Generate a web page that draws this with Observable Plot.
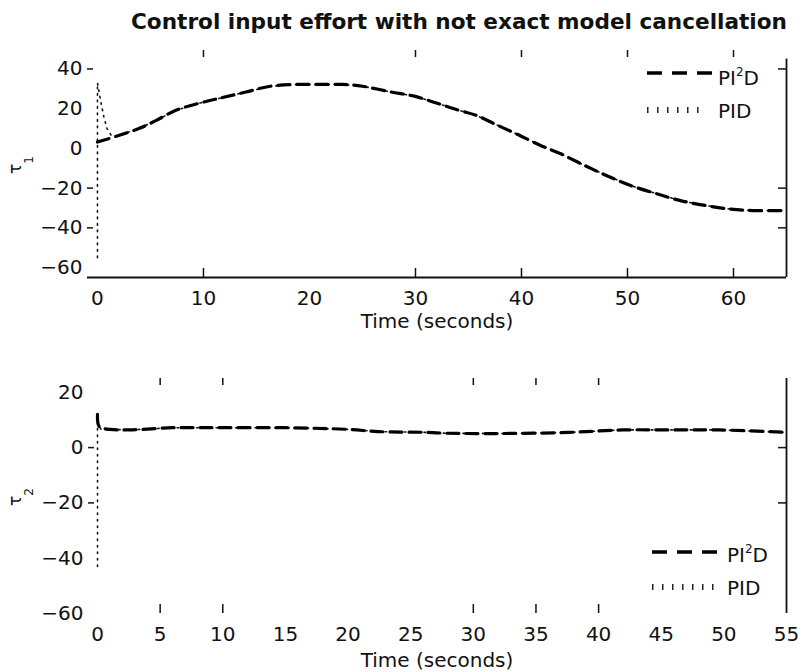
<!DOCTYPE html>
<html>
<head>
<meta charset="utf-8">
<script src="https://cdn.jsdelivr.net/npm/d3@7"></script>
<script src="https://cdn.jsdelivr.net/npm/@observablehq/plot@0.6"></script>
<style>
  body { margin: 0; background: #fff; }
  #wrap { position: relative; width: 802px; height: 672px; overflow: hidden; background: #fff; font-family: "DejaVu Sans", sans-serif; color: #111; }
  #title { position: absolute; left: 0; top: 11px; width: 918px; text-align: center; font-size: 21.6px; line-height: 22px; font-weight: bold; white-space: nowrap; z-index: 5; }
  .panel { position: absolute; left: 0; z-index: 1; }
</style>
</head>
<body>
<div id="wrap">
  <div id="p1" class="panel" style="top:0px"></div>
  <div id="p2" class="panel" style="top:340px"></div>
  <div id="title">Control input effort with not exact model cancellation</div>
</div>
<script>
// ---------- Data ----------
// Panel 1: tau_1
const t1_pi2d = [0, 1.7, 3.9, 5.5, 7.4, 9.7, 11.8, 14, 16.3, 18.7, 20.9, 23.1, 25, 27.7, 29.9, 31.9, 34.1, 35.7, 37.4, 39.6, 41.8, 43.7, 45.8, 48, 50.3, 53, 55, 57.4, 59.6, 61.8, 65];
const v1_pi2d = [3.2, 6, 10, 14, 19.2, 22.9, 25.6, 28.4, 31.3, 32.2, 32.2, 32.2, 31.3, 28.4, 26.3, 23, 19.2, 16.7, 12.5, 7.1, 1.5, -2.7, -8.2, -13.6, -18.7, -23.2, -26.3, -28.8, -30.5, -31.3, -31.3];
const t1_pid = [0, 0, 0.3, 0.6, 0.9, 1.3, 1.7, 3.9, 5.5, 7.4, 9.7, 11.8, 14, 16.3, 18.7, 20.9, 23.1, 25, 27.7, 29.9, 31.9, 34.1, 35.7, 37.4, 39.6, 41.8, 43.7, 45.8, 48, 50.3, 53, 55, 57.4, 59.6, 61.8, 65];
const v1_pid = [-55, 33, 24, 16, 10, 6.5, 6, 10, 14, 19.2, 22.9, 25.6, 28.4, 31.3, 32.2, 32.2, 32.2, 31.3, 28.4, 26.3, 23, 19.2, 16.7, 12.5, 7.1, 1.5, -2.7, -8.2, -13.6, -18.7, -23.2, -26.3, -28.8, -30.5, -31.3, -31.3];
const x1_tickLabels = [0, 10, 20, 30, 40, 50, 60];
const y1_tickLabels = [40, 20, 0, -20, -40, -60];
const x1_tickMarks = [10, 30, 40, 50, 60];
const y1_tickMarks = [40, -20, -40];

// Panel 2: tau_2
const t2_pi2d = [0, 0.15, 1, 2.5, 6, 10, 15, 20, 22.4, 26.4, 27.8, 32.3, 37.6, 41.9, 45.6, 49.6, 55];
const v2_pi2d = [12, 7.5, 6.6, 6.4, 7.2, 7.2, 7.2, 6.6, 5.8, 5.5, 5.2, 5.1, 5.5, 6.4, 6.4, 6.4, 5.5];
const t2_pid = [0, 0, 0.3, 1, 2.5, 6, 10, 15, 20, 22.4, 26.4, 27.8, 32.3, 37.6, 41.9, 45.6, 49.6, 55];
const v2_pid = [-43, 9, 6.5, 6.6, 6.4, 7.2, 7.2, 7.2, 6.6, 5.8, 5.5, 5.2, 5.1, 5.5, 6.4, 6.4, 6.4, 5.5];
const x2_tickLabels = [0, 5, 10, 15, 20, 25, 30, 35, 40, 45, 50, 55];
const y2_tickLabels = [20, 0, -20, -40, -60];
const x2_tickMarks = [5, 10, 30, 35, 40];
const y2_tickMarks = [0, -20];

const seriesNames = ["PI", "PID"];
const xLabel = "Time (seconds)";

const FONT = '"DejaVu Sans", sans-serif';
const W = 802;

function panel(cfg) {
  const fw = W - cfg.marginLeft - cfg.marginRight;
  const fh = cfg.height - cfg.marginTop - cfg.marginBottom;
  const pi2d = cfg.tA.map((t, i) => ({t, v: cfg.vA[i]}));
  const pid = cfg.tB.map((t, i) => ({t, v: cfg.vB[i]}));
  const marks = [
    Plot.axisX(cfg.xLabels, {tickSize: 0, tickPadding: 13, label: null, fontSize: 20, fill: "#111"}),
    Plot.axisY(cfg.yLabels, {tickSize: 0, tickPadding: 5, label: null, fontSize: 20, fill: "#111"}),
    Plot.tickX(cfg.xMarks, {x: d => d, insetTop: fh - 9, strokeWidth: 1.5, stroke: "#111"}),
    Plot.tickX(cfg.xMarks, {x: d => d, insetBottom: fh - 7, strokeWidth: 1.5, stroke: "#111"}),
    Plot.tickY(cfg.yMarks, {y: d => d, insetRight: fw - 6, strokeWidth: 1.5, stroke: "#111"}),
    Plot.tickY(cfg.yMarks, {y: d => d, insetLeft: fw - 8, strokeWidth: 1.5, stroke: "#111"}),
    cfg.rightTop != null
      ? Plot.ruleX([cfg.xDomain[1]], {y1: cfg.rightTop, y2: cfg.yDomain[0], strokeWidth: 1.8, stroke: "#111"})
      : Plot.ruleX([cfg.xDomain[1]], {strokeWidth: 1.8, stroke: "#111"}),
    cfg.bottomLine ? Plot.ruleY([cfg.yDomain[0]], {strokeWidth: 1.8, stroke: "#111"}) : null,
    Plot.line(pid, {x: "t", y: "v", stroke: "#111", strokeWidth: 1.6, strokeDasharray: "1.5,5"}),
    Plot.line(pi2d, {x: "t", y: "v", stroke: "#000", strokeWidth: 3.2, strokeDasharray: "12,7", curve: "catmull-rom"})
  ].filter(Boolean);
  return Plot.plot({
    width: W,
    height: cfg.height,
    marginTop: cfg.marginTop,
    marginBottom: cfg.marginBottom,
    marginLeft: cfg.marginLeft,
    marginRight: cfg.marginRight,
    x: {domain: cfg.xDomain, label: null},
    y: {domain: cfg.yDomain, label: null},
    style: {fontFamily: FONT, fontSize: "20px", background: "transparent", color: "#111", overflow: "visible"},
    marks
  });
}

const plot1 = panel({
  height: 340, marginTop: 50, marginBottom: 63, marginLeft: 87, marginRight: 16,
  xDomain: [-0.94, 65], yDomain: [-65, 49.3],
  xLabels: x1_tickLabels, yLabels: y1_tickLabels, xMarks: x1_tickMarks, yMarks: y1_tickMarks,
  tA: t1_pi2d, vA: v1_pi2d, tB: t1_pid, vB: v1_pid,
  rightTop: 45, bottomLine: true
});
const plot2 = panel({
  height: 332, marginTop: 38, marginBottom: 59, marginLeft: 88, marginRight: 16,
  xDomain: [-0.72, 55], yDomain: [-60, 25],
  xLabels: x2_tickLabels, yLabels: y2_tickLabels, xMarks: x2_tickMarks, yMarks: y2_tickMarks,
  tA: t2_pi2d, vA: v2_pi2d, tB: t2_pid, vB: v2_pid,
  rightTop: null, bottomLine: false
});
document.getElementById("p1").appendChild(plot1);
document.getElementById("p2").appendChild(plot2);

function decorate(svgNode, o) {
  const svg = d3.select(svgNode);
  const g = svg.append("g").attr("font-family", FONT).attr("fill", "#111").attr("text-anchor", "start");
  // x label
  g.append("text").attr("x", o.xLabelX).attr("y", o.xLabelY).attr("text-anchor", "middle")
    .attr("font-size", 20).text(xLabel);
  // y label (tau with subscript), rotated
  const yl = g.append("text").attr("transform", `translate(${o.yLabX},${o.yLabY}) rotate(-90)`)
    .attr("text-anchor", "start").attr("font-size", 17);
  yl.append("tspan").text("τ");
  yl.append("tspan").attr("font-size", 12).attr("dy", 12).text(o.sub);
  // legend
  g.append("line").attr("x1", o.legX1).attr("x2", o.legX2).attr("y1", o.legY1).attr("y2", o.legY1)
    .attr("stroke", "#000").attr("stroke-width", 3.5).attr("stroke-dasharray", "15,10");
  const t1 = g.append("text").attr("x", o.legTX).attr("y", o.legTY1).attr("font-size", 20).attr("text-anchor", "start");
  t1.append("tspan").text(seriesNames[0]);
  t1.append("tspan").attr("font-size", 12).attr("dy", -9).text("2");
  t1.append("tspan").attr("dy", 9).text("D");
  g.append("line").attr("x1", o.legX1).attr("x2", o.legX2d).attr("y1", o.legY2).attr("y2", o.legY2)
    .attr("stroke", "#222").attr("stroke-width", 6).attr("stroke-dasharray", "1.5,8.5");
  g.append("text").attr("x", o.legTX).attr("y", o.legTY2).attr("font-size", 20).attr("text-anchor", "start").text(seriesNames[1]);
}

decorate(plot1, {
  xLabelX: 437, xLabelY: 328, yLabX: 21, yLabY: 174, sub: "1",
  legX1: 647, legX2: 712, legX2d: 706, legY1: 73, legY2: 110, legTX: 718, legTY1: 85, legTY2: 118
});
decorate(plot2, {
  xLabelX: 437, xLabelY: 327, yLabX: 21, yLabY: 166, sub: "2",
  legX1: 652, legX2: 717, legX2d: 714, legY1: 212, legY2: 247, legTX: 727, legTY1: 222, legTY2: 255
});
</script>
</body>
</html>
